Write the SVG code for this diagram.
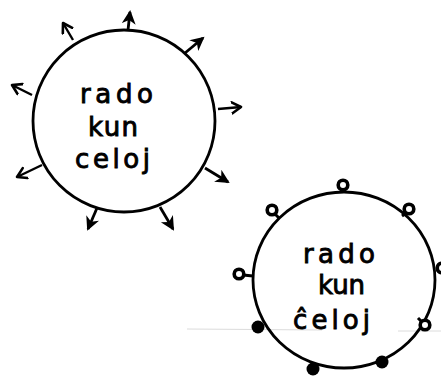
<svg xmlns="http://www.w3.org/2000/svg" width="441" height="378" viewBox="0 0 441 378">
<defs>
<marker id="headFilled" markerUnits="userSpaceOnUse" markerWidth="20" markerHeight="20" refX="12" refY="7" orient="auto">
<path d="M0,0 L14,7 L0,14 L4,7 Z" fill="#000"/>
</marker>
<marker id="headOpen" markerUnits="userSpaceOnUse" markerWidth="18" markerHeight="18" refX="10" refY="7" orient="auto">
<path d="M1,1.5 L10,7 L1,12.5" fill="none" stroke="#000" stroke-width="2.6" stroke-linecap="round" stroke-linejoin="round"/>
</marker>
</defs>
<style>
.ring{fill:none;stroke:#000;stroke-width:2.8}
.arrowF{stroke:#000;stroke-width:2.8;fill:none;marker-end:url(#headFilled)}
.arrowO{stroke:#000;stroke-width:2.4;fill:none;marker-end:url(#headOpen)}
.lbl{font-family:"DejaVu Sans","Liberation Sans",sans-serif;font-size:26px;fill:#000;stroke:#000;stroke-width:0.9}
.bead{fill:#fff;stroke:#000;stroke-width:3.6}
.dot{fill:#000}
.scan{stroke:#dcdcdc;stroke-width:1;fill:none}
</style>
<rect width="441" height="378" fill="#fff"/>
<path class="scan" d="M187,329 L322,330 M398,331 L441,331"/>
<g id="node-emission">
<ellipse class="ring" cx="124" cy="121" rx="91" ry="91"/>
<text class="lbl" x="80" y="103" textLength="73" lengthAdjust="spacing">rado</text>
<text class="lbl" x="88" y="136" textLength="50" lengthAdjust="spacing">kun</text>
<text class="lbl" x="75" y="168" textLength="75" lengthAdjust="spacing">celoj</text>
</g>
<g id="connectors">
<line class="arrowF" x1="128" y1="30" x2="130" y2="12"/>
<line class="arrowO" x1="73" y1="40" x2="63" y2="23"/>
<line class="arrowF" x1="185" y1="53" x2="203" y2="38"/>
<line class="arrowO" x1="218" y1="109" x2="241" y2="107"/>
<line class="arrowO" x1="32" y1="95" x2="12" y2="85"/>
<line class="arrowO" x1="42" y1="165" x2="17" y2="177"/>
<line class="arrowF" x1="205" y1="168" x2="228" y2="182"/>
<line class="arrowF" x1="97" y1="208" x2="88" y2="229"/>
<line class="arrowF" x1="160" y1="207" x2="173" y2="229"/>
</g>
<g id="node-absorption">
<ellipse class="ring" cx="344" cy="280" rx="91" ry="88"/>
<text class="lbl" x="303" y="263" textLength="72" lengthAdjust="spacing">rado</text>
<text class="lbl" x="318" y="294" textLength="47" lengthAdjust="spacing">kun</text>
<text class="lbl" x="293" y="329" textLength="77" lengthAdjust="spacing">ĉeloj</text>
<path d="M343,189 L343,192 M275,214 L279,218 M406,213 L402,216 M243,275 L253,276 M421,321 L418,318" stroke="#000" stroke-width="3" fill="none"/>
<circle class="bead" cx="343" cy="185" r="4.8"/>
<circle class="bead" cx="272" cy="210" r="4.8"/>
<circle class="bead" cx="409" cy="209" r="4.8"/>
<circle class="bead" cx="239" cy="274" r="4.8"/>
<circle class="bead" cx="442" cy="268" r="4.8"/>
<circle class="bead" cx="425" cy="325" r="4.8"/>
<circle class="dot" cx="258" cy="327" r="6.5"/>
<circle class="dot" cx="313" cy="369" r="6.5"/>
<circle class="dot" cx="382" cy="362" r="6.5"/>
</g>
</svg>
